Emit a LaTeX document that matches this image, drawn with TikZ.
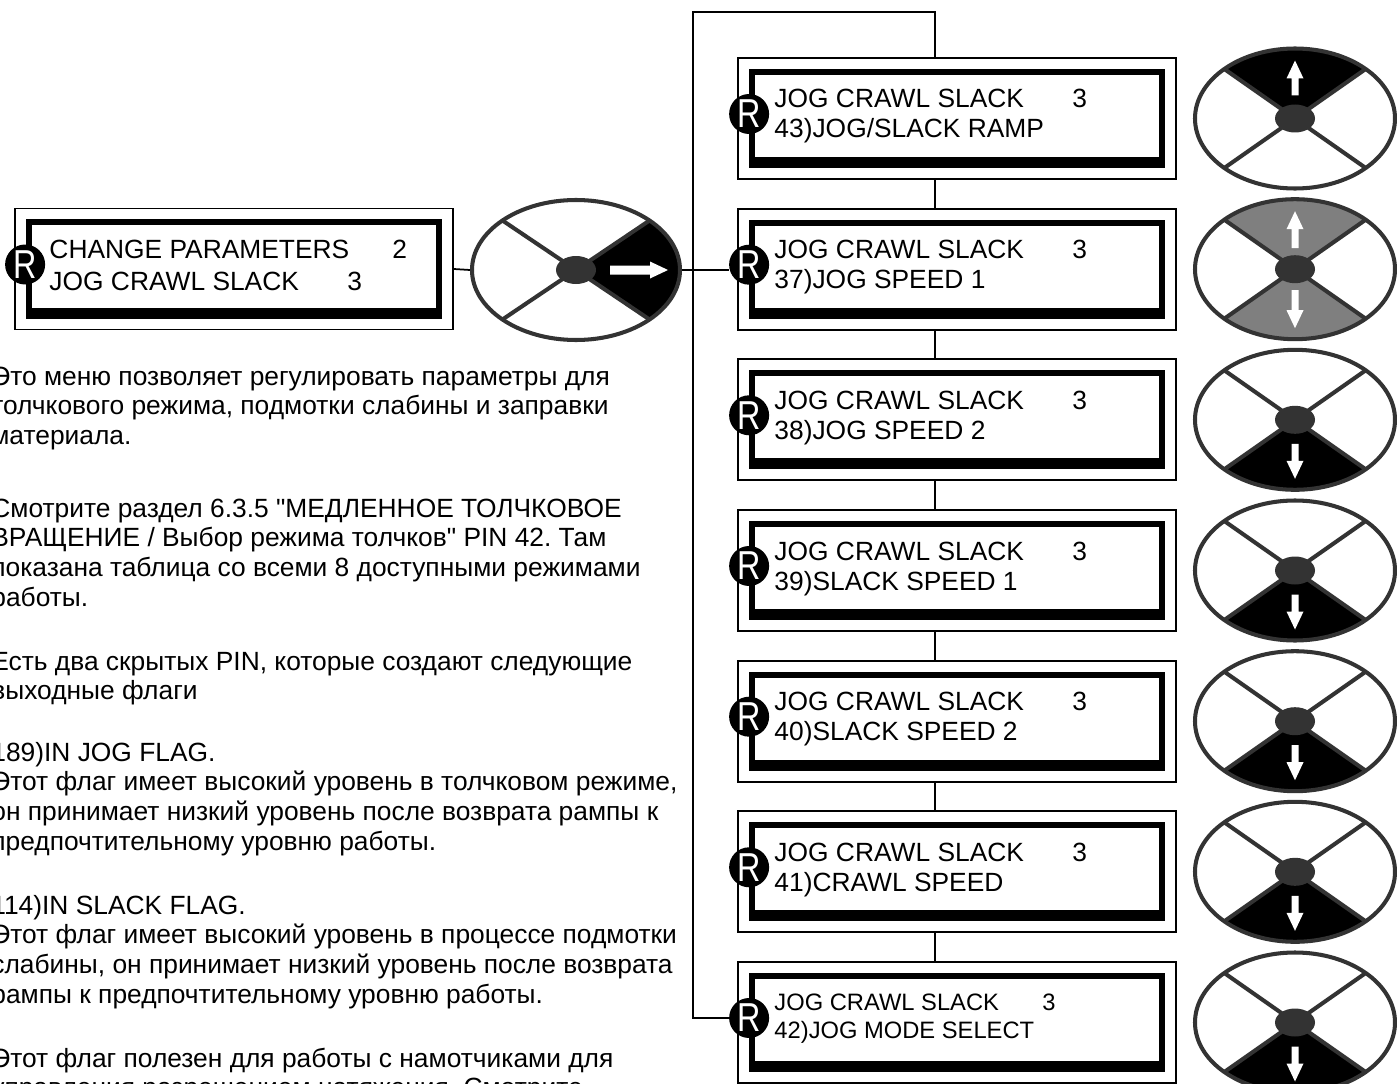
\documentclass[tikz,border=0pt]{standalone}
\usepackage{fontspec}
\usepackage{graphicx}
\setmainfont{Liberation Sans}[Ligatures=TeXOff]
\frenchspacing
\usetikzlibrary{shapes.geometric}

\definecolor{rim}{HTML}{333333}
\definecolor{keygray}{HTML}{7F7F7F}

\newlength{\px}
\setlength{\px}{0.2mm}
% one line of the display: text, number, distance to the number
\newcommand{\lcdrow}[3]{\makebox[#3\px][l]{#1}#2}
% parts of a keypad disc, drawn round its centre
\newcommand{\padsector}[4]{\fill[#1] (0,0) -- (#2:#4 and 70) arc[start angle=#2, end angle=#3, x radius=#4, y radius=70] -- cycle;}
\newcommand{\padspokes}[1]{%
  \draw[rim, line width=2.3pt] (45:#1 and 70) -- (225:#1 and 70) (135:#1 and 70) -- (315:#1 and 70);
  \fill[rim] (0,0) ellipse [x radius=20, y radius=14];}
% arrow to the right: start, tip, half shaft width
\newcommand{\padharrow}[3]{\fill[white] (#1,-#3) -- (#2-18,-#3) -- (#2-18,-8.5) -- (#2,0) -- (#2-18,8.5) -- (#2-18,#3) -- (#1,#3) -- cycle;}
% arrow up (-1) or down (1): direction, start, tip, half shaft width
\newcommand{\padvarrow}[4]{\fill[white] (-#4,{#1*#2}) -- (-#4,{#1*(#3-18)}) -- (-8.5,{#1*(#3-18)}) -- (0,{#1*#3})
  -- (8.5,{#1*(#3-18)}) -- (#4,{#1*(#3-18)}) -- (#4,{#1*#2}) -- cycle;}

\tikzset{
  lcd/.style={draw, line width=1pt, minimum width=8.76cm, minimum height=2.42cm, inner sep=0pt,
    path picture={
      \fill[black] ([shift={(11,-11)}]path picture bounding box.south west) rectangle ([shift={(-11,11)}]path picture bounding box.north east);
      \fill[white] ([shift={(17,-22)}]path picture bounding box.south west) rectangle ([shift={(-17,17)}]path picture bounding box.north east);
    }},
  lcdtext/.style={anchor=base west, inner sep=0pt, font=\fontsize{15}{17}\selectfont},
  lcdsmall/.style={lcdtext, font=\fontsize{13.5}{16}\selectfont},
  bodytext/.style={anchor=base west, inner sep=0pt, font=\fontsize{15}{17}\selectfont},
  rdot/.style={circle, fill=black, text=white, minimum size=0.8cm, inner sep=0pt, font=\fontsize{23}{23}\selectfont},
  pad/.style={ellipse, draw=rim, line width=2.3pt, minimum width=4cm, minimum height=2.8cm, inner sep=0pt},
  padright/.style={pad, minimum width=4.16cm, path picture={
      \begin{scope}[shift={(path picture bounding box.center)}]
        \padsector{black}{-45}{45}{104} \padspokes{104} \padharrow{34}{92}{4.5}
      \end{scope}}},
  padup/.style={pad, path picture={
      \begin{scope}[shift={(path picture bounding box.center)}]
        \padsector{black}{225}{315}{100} \padspokes{100} \padvarrow{-1}{23}{58}{3.5}
      \end{scope}}},
  padboth/.style={pad, path picture={
      \begin{scope}[shift={(path picture bounding box.center)}]
        \padsector{keygray}{225}{315}{100} \padsector{keygray}{45}{135}{100} \padspokes{100}
        \padvarrow{-1}{21}{58}{3.5} \padvarrow{1}{21}{59}{3.5}
      \end{scope}}},
  paddown/.style={pad, path picture={
      \begin{scope}[shift={(path picture bounding box.center)}]
        \padsector{black}{45}{135}{100} \padspokes{100} \padvarrow{1}{24}{59}{3.5}
      \end{scope}}},
  link/.style={line width=1pt}
}

\begin{document}
\begin{tikzpicture}[x=0.2mm, y=-0.2mm]
    \path[use as bounding box, clip] (0,0) rectangle (1397,1084);

    % Top menu
    \node[lcd] (menu) at (234,269) {};
    \node[rdot] (r0) at ([shift={(11,-4.5)}]menu.west) {\scalebox{0.8}[1]{R}};
    \node[lcdtext] (m1) at ([shift={(35,-11)}]menu.west) {\lcdrow{CHANGE PARAMETERS}{2}{343}};
    \node[lcdtext] (m2) at ([shift={(35,21)}]menu.west) {\lcdrow{JOG CRAWL SLACK}{3}{298}};
    \node[padright] (k0) at (576,270) {};

    % Sub menu
    \foreach \i/\c/\txt in {1/118.5/{43)JOG/SLACK RAMP}, 2/269.2/{37)JOG SPEED 1}, 3/419.8/{38)JOG SPEED 2},
                            4/570.5/{39)SLACK SPEED 1}, 5/721.2/{40)SLACK SPEED 2}, 6/871.8/{41)CRAWL SPEED}} {
        \node[lcd] (b\i) at (957,\c) {};
        \node[rdot] (r\i) at ([shift={(12,-4.5)}]b\i.west) {\scalebox{0.8}[1]{R}};
        \node[lcdtext] (t\i) at ([shift={(37,-10.5)}]b\i.west) {\lcdrow{JOG CRAWL SLACK}{3}{298}};
        \node[lcdtext] (p\i) at ([shift={(37,19.5)}]b\i.west) {\txt};
    }
    \node[lcd] (b7) at (957,1022.5) {};
    \node[rdot] (r7) at ([shift={(12,-4.5)}]b7.west) {\scalebox{0.8}[1]{R}};
    \node[lcdsmall] (t7) at ([shift={(37,-12.5)}]b7.west) {\lcdrow{JOG CRAWL SLACK}{3}{268}};
    \node[lcdsmall] (p7) at ([shift={(37,15.5)}]b7.west) {42)JOG MODE SELECT};

    % Keypad
    \node[padup] (k1) at (1295,118.5) {};
    \node[padboth] (k2) at (1295,269.2) {};
    \foreach \i/\c in {3/419.8, 4/570.5, 5/721.2, 6/871.8, 7/1022.5}
        \node[paddown] (k\i) at (1295,\c) {};

    % Connections
    \coordinate (bus) at (935,0);
    \coordinate (top) at (693,12);
    \draw[link] (menu.east) -- (k0.west);
    \draw[link] (k0.east) -- (k0.east -| r2.west);
    \foreach \i/\j in {1/2, 2/3, 3/4, 4/5, 5/6, 6/7}
        \draw[link] (b\i.south -| bus) -- (b\j.north -| bus);
    \draw[link] (b1.north -| bus) |- (top) |- (r7.west);

    % Notes
    \node[bodytext] (note1) at (-9,385) {\parbox[t]{20cm}{\raggedright Это меню позволяет регулировать параметры для\\
        толчкового режима, подмотки слабины и заправки\\материала.}};
    \node[bodytext] (note2) at (-9,517) {\parbox[t]{20cm}{\raggedright Смотрите раздел 6.3.5 "МЕДЛЕННОЕ ТОЛЧКОВОЕ\\
        ВРАЩЕНИЕ / Выбор режима толчков" PIN 42. Там\\показана таблица со всеми 8 доступными режимами\\работы.}};
    \node[bodytext] (note3) at (-9,670) {\parbox[t]{20cm}{\raggedright Есть два скрытых PIN, которые создают следующие\\выходные флаги}};
    \node[bodytext] (note4) at (-9,761) {\parbox[t]{20cm}{\raggedright 189)IN JOG FLAG.\\
        Этот флаг имеет высокий уровень в толчковом режиме,\\он принимает низкий уровень после возврата рампы к\\
        предпочтительному уровню работы.}};
    \node[bodytext] (note5) at (-9,914) {\parbox[t]{20cm}{\raggedright 114)IN SLACK FLAG.\\
        Этот флаг имеет высокий уровень в процессе подмотки\\слабины, он принимает низкий уровень после возврата\\
        рампы к предпочтительному уровню работы.}};
    \node[bodytext] (note6) at (-9,1067) {\parbox[t]{20cm}{\raggedright Этот флаг полезен для работы с намотчиками для\\
        управления разрешением натяжения. Смотрите}};
\end{tikzpicture}
\end{document}
